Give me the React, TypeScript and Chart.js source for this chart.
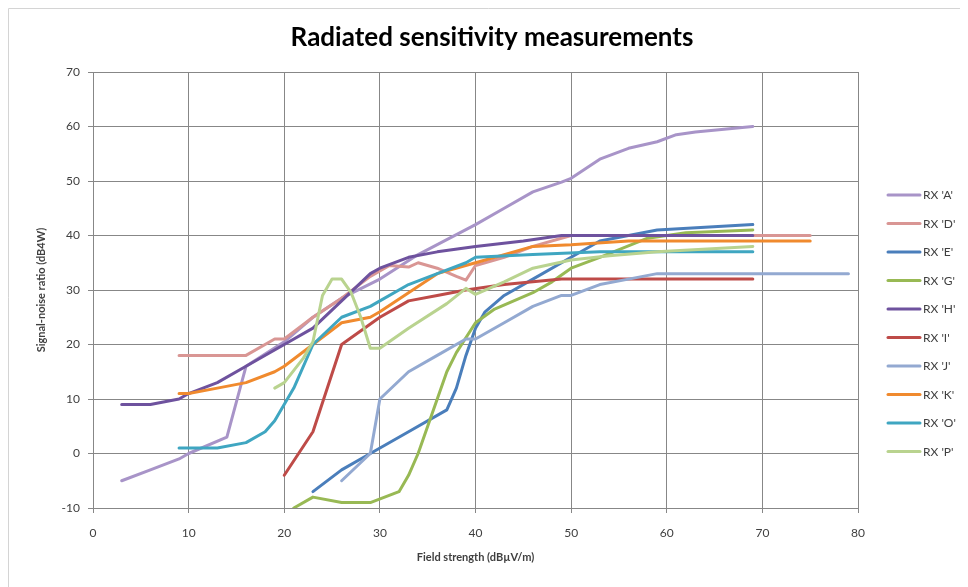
import React, { useEffect, useRef } from "react";
import { Chart, registerables } from "chart.js";

Chart.register(...registerables);

type Pt = [number, number];

const titleText = "Radiated sensitivity measurements";
const xTitle = "Field strength (dBµV/m)";
const yTitle = "Signal-noise ratio (dB4W)";

const seriesNames = ["RX 'A'", "RX 'D'", "RX 'E'", "RX 'G'", "RX 'H'", "RX 'I'", "RX 'J'", "RX 'K'", "RX 'O'", "RX 'P'"];
const seriesColors = ["#A894C8", "#D99694", "#4A7EBB", "#98B954", "#6E529E", "#BE4B48", "#93A9D1", "#F08A2E", "#3FA6C1", "#B9D38F"];

const rxA: Pt[] = [[3, -5], [6, -3], [9, -1], [10, 0], [14, 3], [16, 16], [20, 20.5], [23, 25], [26, 28.5], [30, 32], [34, 36.5], [40, 42], [43, 45], [46, 48], [49, 49.8], [50, 50.5], [53, 54], [56, 56], [59, 57.2], [61, 58.5], [63, 59], [69, 60]];
const rxD: Pt[] = [[9, 18], [16, 18], [19, 21], [20, 21], [23, 25], [26, 28.5], [29, 32.5], [30, 33.5], [31, 34.5], [33, 34.2], [34, 35], [36, 34], [38, 32.5], [39, 31.8], [40, 34.5], [43, 36], [46, 38], [50, 40], [60, 40], [75, 40]];
const rxE: Pt[] = [[23, -7], [26, -3], [29, 0], [33, 4], [37, 8], [38, 12], [39, 18], [40, 23], [41, 26], [43, 29], [46, 32], [50, 36], [53, 39], [56, 40], [59, 41], [69, 42]];
const rxG: Pt[] = [[21, -10], [23, -8], [26, -9], [29, -9], [32, -7], [33, -4], [34, 0], [35, 5], [36, 10], [37, 15], [38, 18.5], [40, 24], [42, 26.5], [46, 29.5], [48, 31.5], [50, 34], [53, 36], [58, 39.5], [62, 40.5], [69, 41]];
const rxH: Pt[] = [[3, 9], [6, 9], [9, 10], [10, 11], [13, 13], [16, 16], [20, 20], [23, 23], [26, 28], [29, 33], [30, 34], [33, 36], [36, 37], [40, 38], [45, 39], [49, 40], [69, 40]];
const rxI: Pt[] = [[20, -4], [23, 4], [26, 20], [30, 25], [33, 28], [36, 29], [39, 30], [43, 31], [49, 32], [69, 32]];
const rxJ: Pt[] = [[26, -5], [29, 0], [30, 10], [33, 15], [36, 18], [39, 21], [40, 21], [43, 24], [46, 27], [49, 29], [50, 29], [53, 31], [56, 32], [59, 33], [79, 33]];
const rxK: Pt[] = [[9, 11], [10, 11], [13, 12], [16, 13], [19, 15], [20, 16], [23, 20], [26, 24], [29, 25], [30, 26], [33, 29.5], [36, 33], [40, 35], [43, 36.5], [46, 38], [50, 38.3], [56, 39], [59, 39], [75, 39]];
const rxO: Pt[] = [[9, 1], [10, 1], [13, 1], [16, 2], [18, 4], [19, 6], [21, 12], [23, 20], [26, 25], [29, 27], [30, 28], [33, 31], [36, 33], [39, 35], [40, 36], [46, 36.5], [53, 37], [59, 37], [69, 37]];
const rxP: Pt[] = [[19, 12], [20, 13], [22, 17.5], [23, 20.5], [24, 29], [25, 32], [26, 32], [27, 29.5], [28, 25], [29, 19.3], [30, 19.3], [33, 23], [37, 27.5], [39, 30.3], [40, 29.2], [43, 31.5], [46, 34], [50, 35.5], [54, 36.3], [59, 37], [69, 38]];

const seriesData: Pt[][] = [rxA, rxD, rxE, rxG, rxH, rxI, rxJ, rxK, rxO, rxP];

const xMin = 0, xMax = 80, xStep = 10;
const yMin = -10, yMax = 70, yStep = 10;

const FONT = "Lato, 'Open Sans', sans-serif";
const GRID = "#878787";
const TEXT = "#404040";

const customLegend = {
  id: "customLegend",
  afterDraw(chart: any) {
    const ctx = chart.ctx;
    const area = chart.chartArea;
    ctx.save();
    // outer chart border (left & top)
    ctx.strokeStyle = "#D4D4D4";
    ctx.lineWidth = 1;
    ctx.beginPath();
    ctx.moveTo(0.5, chart.height);
    ctx.lineTo(0.5, 0.5);
    ctx.lineTo(chart.width, 0.5);
    ctx.stroke();

    const x0 = area.right + 30;
    const lineLen = 32;
    const y0 = 187;
    const gap = 28.5;
    ctx.font = "12px " + FONT;
    ctx.textBaseline = "middle";
    ctx.textAlign = "left";
    chart.data.datasets.forEach((ds: any, i: number) => {
      const y = y0 + i * gap;
      ctx.strokeStyle = ds.borderColor;
      ctx.lineWidth = 3;
      ctx.lineCap = "round";
      ctx.beginPath();
      ctx.moveTo(x0, y);
      ctx.lineTo(x0 + lineLen, y);
      ctx.stroke();
      ctx.fillStyle = TEXT;
      ctx.fillText(ds.label, x0 + lineLen + 3, y + 0.5);
    });
    ctx.restore();
  },
};

export default function App() {
  const ref = useRef<HTMLCanvasElement | null>(null);

  useEffect(() => {
    if (!ref.current) return;
    const datasets = seriesData.map((pts, i) => ({
      label: seriesNames[i],
      data: pts.map(([x, y]) => ({ x, y })),
      borderColor: seriesColors[i],
      backgroundColor: seriesColors[i],
      borderWidth: 3,
      pointRadius: 0,
      pointHoverRadius: 0,
      tension: 0,
      fill: false,
      borderJoinStyle: "round" as const,
      borderCapStyle: "round" as const,
      order: seriesData.length - i,
    }));

    const chart = new Chart(ref.current, {
      type: "line",
      data: { datasets },
      options: {
        animation: false,
        responsive: false,
        maintainAspectRatio: false,
        layout: { padding: { left: 8, right: 0, top: 0, bottom: 0 } },
        plugins: {
          legend: { display: false },
          tooltip: { enabled: false },
          title: {
            display: true,
            text: titleText,
            color: "#000000",
            font: { family: FONT, size: 26, weight: "bold", lineHeight: 1.2 },
            padding: { top: 14.4, bottom: 18.4 },
          },
        },
        scales: {
          x: {
            type: "linear",
            min: xMin,
            max: xMax,
            ticks: { stepSize: xStep, color: TEXT, font: { family: FONT, size: 12 }, padding: 13, maxRotation: 0 },
            grid: { color: GRID, lineWidth: 1, tickLength: 5, drawTicks: true },
            border: { color: GRID, width: 1 },
            title: {
              display: true,
              text: xTitle,
              color: TEXT,
              font: { family: FONT, size: 11, weight: "bold", lineHeight: 1.2 },
              padding: { top: 0, bottom: 23.4 },
            },
            afterFit(scale: any) {
              scale.height = 79;
            },
          },
          y: {
            type: "linear",
            min: yMin,
            max: yMax,
            ticks: { stepSize: yStep, color: TEXT, font: { family: FONT, size: 12 }, padding: 8 },
            grid: { color: GRID, lineWidth: 1, tickLength: 5, drawTicks: true },
            border: { color: GRID, width: 1 },
            title: {
              display: true,
              text: yTitle,
              color: TEXT,
              font: { family: FONT, size: 11, weight: "bold", lineHeight: 1.2 },
              padding: { top: 18.4, bottom: 0 },
            },
            afterFit(scale: any) {
              scale.width = 77;
            },
          },
          legendSpace: {
            type: "linear",
            position: "right",
            display: true,
            grid: { display: false, drawTicks: false },
            border: { display: false },
            ticks: { display: false },
            afterFit(scale: any) {
              scale.width = 110;
            },
          },
        },
      },
      plugins: [customLegend],
    });
    return () => chart.destroy();
  }, []);

  return (
    <div style={{ width: 960, height: 579, position: "relative" }}>
      <canvas ref={ref} width={960} height={579} style={{ display: "block", width: 960, height: 579 }} />
    </div>
  );
}
